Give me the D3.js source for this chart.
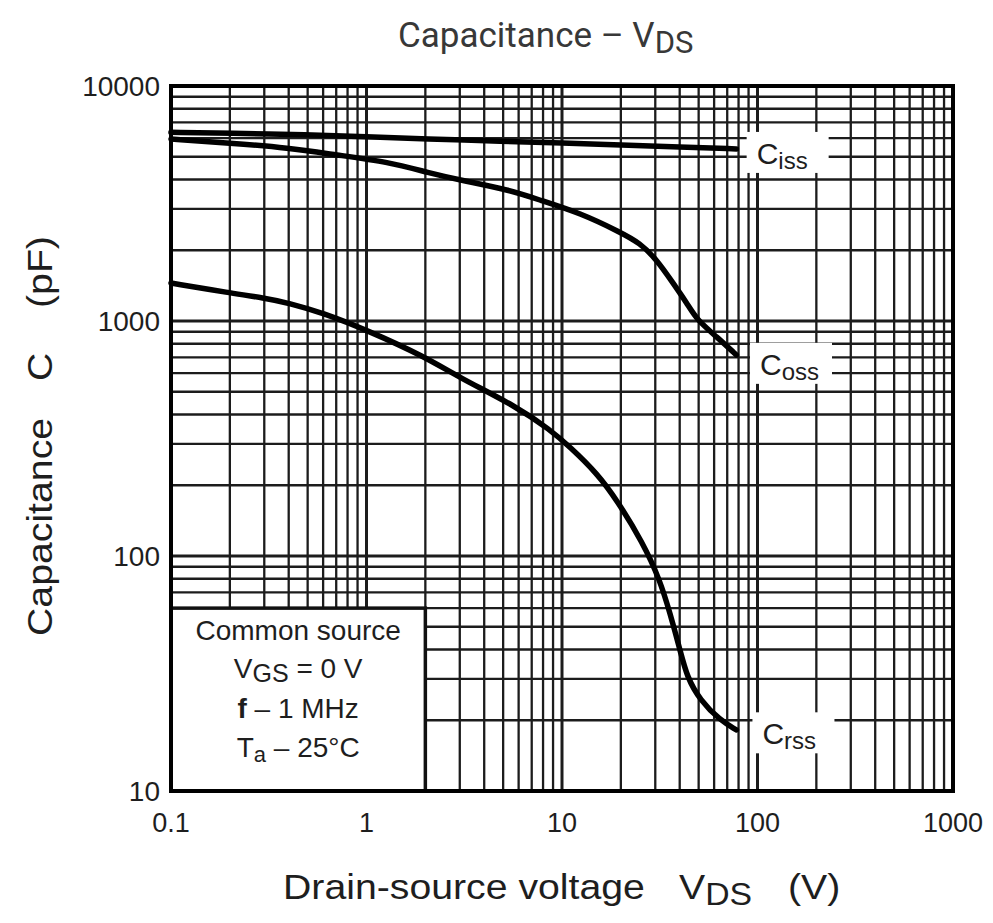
<!DOCTYPE html>
<html>
<head>
<meta charset="utf-8">
<script src="https://cdn.jsdelivr.net/npm/d3@7"></script>
<style>
    body { margin: 0; background: #fff; }
    svg text { font-family: "Liberation Sans", Arial, sans-serif; fill: #1e1e1e; }
</style>
</head>
<body>
<svg id="chart" width="993" height="923"></svg>
<script>
// values (V, pF)
const cissV = [0.1, 0.2, 0.5, 1, 2, 5, 10, 20, 40, 78];
const cissC = [6350, 6300, 6200, 6080, 5950, 5820, 5720, 5620, 5500, 5400];

const cossV = [0.1, 0.2, 0.4, 0.7, 1.3, 2.1, 3, 5.4, 7.7, 12.4, 19.8, 25, 30.6, 37, 43.6, 49, 62, 78];
const cossC = [5950, 5720, 5450, 5090, 4750, 4260, 3980, 3610, 3270, 2880, 2390, 2150, 1820, 1450, 1190, 1010, 855, 717];

const crssV = [0.1, 0.2, 0.3, 0.4, 0.6, 1, 2, 2.94, 5.9, 8.7, 11, 15.1, 19.1, 25.9, 31.7, 35.7, 40.1, 43.6, 50.8, 64.3, 78];
const crssC = [1450, 1316, 1253, 1193, 1081, 916, 703, 578, 431, 344, 291, 225, 173, 114, 79, 57, 40, 30.5, 24.4, 20, 18.2];

const xTicks = [0.1, 1, 10, 100, 1000];
const xTickLabels = ["0.1", "1", "10", "100", "1000"];
const yTicks = [10, 100, 1000, 10000];
const yTickLabels = ["10", "100", "1000", "10000"];

const curveNames = ["iss", "oss", "rss"];
const legendLines = ["Common source", "VGS = 0 V", "f – 1 MHz", "Ta – 25°C"];

const svg = d3.select("#chart"),
    margin = {top: 86, right: 40, bottom: 132, left: 171},
    width = 993 - margin.left - margin.right,
    height = 923 - margin.top - margin.bottom,
    g = svg.append("g").attr("transform", "translate(" + margin.left + "," + margin.top + ")");

let x = d3.scaleLog()
    .domain([0.1, 1000])
    .range([0, width]);

let y = d3.scaleLog()
    .domain([10, 10000])
    .range([height, 0]);

// grid
g.append("g")
    .attr("class", "grid-x")
    .selectAll("line")
    .data(x.ticks())
    .enter().append("line")
    .attr("x1", function (d) { return x(d); })
    .attr("x2", function (d) { return x(d); })
    .attr("y1", 0)
    .attr("y2", height)
    .attr("stroke", "#1c1c1c")
    .attr("stroke-width", function (d) { return xTicks.indexOf(d) >= 0 ? 3 : 2.3; });

g.append("g")
    .attr("class", "grid-y")
    .selectAll("line")
    .data(y.ticks())
    .enter().append("line")
    .attr("y1", function (d) { return y(d); })
    .attr("y2", function (d) { return y(d); })
    .attr("x1", 0)
    .attr("x2", width)
    .attr("stroke", "#1c1c1c")
    .attr("stroke-width", function (d) { return yTicks.indexOf(d) >= 0 ? 3 : 2.3; });

// curves
let line = d3.line()
    .x(function (d) { return x(d[0]); })
    .y(function (d) { return y(d[1]); })
    .curve(d3.curveBasis);

let series = [
    d3.zip(cissV, cissC),
    d3.zip(cossV, cossC),
    d3.zip(crssV, crssC)
];

g.selectAll(".curve")
    .data(series)
    .enter().append("path")
    .attr("class", "curve")
    .attr("d", line)
    .attr("fill", "none")
    .attr("stroke", "#000")
    .attr("stroke-width", 5.5)
    .attr("stroke-linecap", "round")
    .attr("stroke-linejoin", "round");

// curve labels, placed just right of each curve end
const labelAt = [[99, 4660], [103, 590], [106, 15.8]];

let lab = g.selectAll(".clabel")
    .data(curveNames)
    .enter().append("g")
    .attr("class", "clabel")
    .attr("transform", function (d, i) {
        return "translate(" + x(labelAt[i][0]) + "," + y(labelAt[i][1]) + ")";
    });

lab.append("rect")
    .attr("x", -10)
    .attr("y", -32)
    .attr("width", 82)
    .attr("height", 41)
    .attr("fill", "#fff");

let lt = lab.append("text")
    .attr("font-size", 30);
lt.append("tspan").text("C");
lt.append("tspan")
    .attr("font-size", 24)
    .attr("dy", 5)
    .text(function (d) { return d; });

// condition box
let box = g.append("g").attr("class", "conditions");
box.append("rect")
    .attr("x", x(0.1))
    .attr("y", y(60))
    .attr("width", x(2) - x(0.1))
    .attr("height", y(10) - y(60))
    .attr("fill", "#fff")
    .attr("stroke", "#111")
    .attr("stroke-width", 3.5);

let cx = (x(0.1) + x(2)) / 2;
box.append("text")
    .attr("x", cx).attr("y", y(60) + 32)
    .attr("text-anchor", "middle").attr("font-size", 28)
    .text(legendLines[0]);

let t1 = box.append("text")
    .attr("x", cx).attr("y", y(60) + 70)
    .attr("text-anchor", "middle").attr("font-size", 28);
t1.append("tspan").text("V");
t1.append("tspan").attr("dy", 4).attr("font-size", 25).text("GS");
t1.append("tspan").attr("dy", -4).text(" = 0 V");

let t2 = box.append("text")
    .attr("x", cx).attr("y", y(60) + 110)
    .attr("text-anchor", "middle").attr("font-size", 28);
t2.append("tspan").attr("font-weight", "bold").text("f");
t2.append("tspan").text(" – 1 MHz");

let t3 = box.append("text")
    .attr("x", cx).attr("y", y(60) + 149)
    .attr("text-anchor", "middle").attr("font-size", 28);
t3.append("tspan").text("T");
t3.append("tspan").attr("dy", 5).attr("font-size", 22).text("a");
t3.append("tspan").attr("dy", -5).text(" – 25°C");

// frame
g.append("rect")
    .attr("width", width)
    .attr("height", height)
    .attr("fill", "none")
    .attr("stroke", "#000")
    .attr("stroke-width", 4);

// tick labels
g.selectAll(".xlab")
    .data(xTicks)
    .enter().append("text")
    .attr("class", "xlab")
    .attr("x", function (d) { return x(d); })
    .attr("y", height + 41)
    .attr("text-anchor", "middle")
    .attr("font-size", 27)
    .text(function (d, i) { return xTickLabels[i]; });

g.selectAll(".ylab")
    .data(yTicks)
    .enter().append("text")
    .attr("class", "ylab")
    .attr("x", -11)
    .attr("y", function (d) { return y(d) + 10; })
    .attr("text-anchor", "end")
    .attr("font-size", 28)
    .text(function (d, i) { return yTickLabels[i]; });

// title
let title = svg.append("text")
    .attr("x", 398)
    .attr("y", 47)
    .attr("font-size", 35)
    .style("font-family", "Roboto, 'Liberation Sans', sans-serif")
    .style("fill", "#383838");
title.append("tspan").text("Capacitance – V");
title.append("tspan").attr("dy", 6).attr("font-size", 31).text("DS");

// x axis title
svg.append("text")
    .attr("transform", "translate(283,899) scale(1.09,1)")
    .attr("font-size", 36)
    .text("Drain-source voltage");
let xv = svg.append("text")
    .attr("transform", "translate(679,899) scale(1.09,1)")
    .attr("font-size", 36);
xv.append("tspan").text("V");
xv.append("tspan").attr("dy", 6).attr("font-size", 31).text("DS");
svg.append("text")
    .attr("transform", "translate(788,899) scale(1.09,1)")
    .attr("font-size", 36)
    .text("(V)");

// y axis title
svg.append("text")
    .attr("transform", "translate(52,636) rotate(-90) scale(1.09,1)")
    .attr("font-size", 36)
    .text("Capacitance");
svg.append("text")
    .attr("transform", "translate(52,381) rotate(-90) scale(1.09,1)")
    .attr("font-size", 36)
    .text("C");
svg.append("text")
    .attr("transform", "translate(52,308) rotate(-90) scale(1.09,1)")
    .attr("font-size", 36)
    .text("(pF)");
</script>
</body>
</html>
